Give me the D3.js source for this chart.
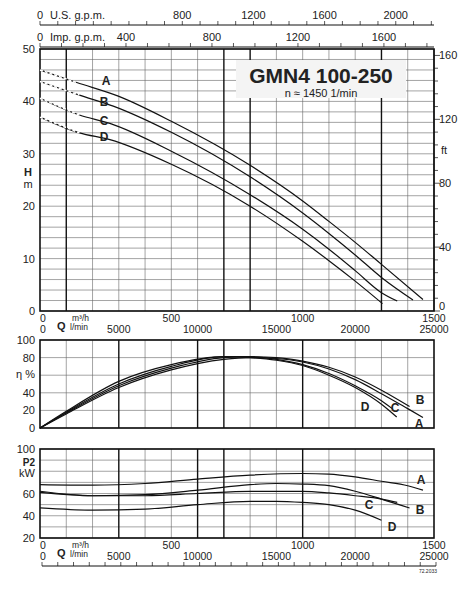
<!DOCTYPE html>
<html><head><meta charset="utf-8">
<script src="https://cdn.jsdelivr.net/npm/d3@7"></script>
<style>body{margin:0;background:#fff}text{font-family:"Liberation Sans",Arial,sans-serif;fill:#222}</style>
</head><body><svg id="c" width="469" height="600"></svg>
<script>
// Flow in m3/h, head in m, efficiency in %, power in kW
const curves = ['A', 'B', 'C', 'D'];
const headQ = [[0,140,298,500,800,1000,1100,1200,1300,1458],[0,150,279,500,800,1000,1100,1200,1300,1420],[0,150,266,500,800,1000,1100,1200,1300,1360],[0,150,266,500,800,1000,1100,1200,1304]];
const headH = [[46.0,43.6,41.0,36.2,27.8,21.0,17.1,13.1,8.9,2.2],[43.8,41.2,39.1,34.1,25.6,18.7,14.8,10.7,6.4,2.1],[40.6,37.4,35.8,30.5,22.2,15.6,11.8,7.7,3.5,1.9],[37.0,34.0,32.7,28.0,20.0,13.3,9.6,5.7,1.4]];
const effQ = [[0,100,300,500,700,800,900,1000,1100,1200,1300,1400,1458],[0,100,300,500,700,800,900,1000,1100,1200,1300,1407],[0,100,300,500,700,800,900,1000,1100,1200,1300,1341],[0,100,300,500,700,800,900,1000,1100,1200,1300,1358]];
const effV = [[0,16,46,66,78,80,79,75,67,55,39,22,12],[0,17,48,68,80,81,80,76,69,58,43,24.5],[0,18,50,70,81,81,78,72,62,48,31,22],[0,19,53,72,81,80,77,71,60,46,27,12.5]];
const powQ = [[0,200,400,600,800,1000,1100,1200,1300,1400,1458],[0,200,400,600,800,900,1000,1100,1200,1300,1407],[0,200,400,600,800,1000,1100,1200,1300,1360],[0,200,400,600,800,900,1000,1100,1200,1300]];
const powV = [[68,67.5,69,73,76.5,78,77.5,75,71,67,63],[61,58,59,63,68,69,68.5,67,62,55,47],[62,58,58,60,62,62,60.5,58,55,52],[47,45,46,50,53,53,52,50,45,36]];
const hTicks = [0,10,20,30,40,50], ftTicks = [0,40,80,120,160];
const qTicks = [0,500,1000,1500], lminTicks = [5000,10000,15000,20000,25000];
const usTicks = [800,1200,1600,2000], impTicks = [400,800,1200,1600];

const svg = d3.select('#c');
const x = d3.scaleLinear().domain([0,1500]).range([40,434]);
const line = d3.line().curve(d3.curveMonotoneX);

function panel(y, yTicks, minorStep, boldQ) {
  const g = svg.append('g');
  const [lo, hi] = y.domain();
  for (let v = lo; v <= hi; v += minorStep)
    g.append('line').attr('x1',40).attr('x2',434).attr('y1',y(v)).attr('y2',y(v)).attr('stroke','#666').attr('stroke-width',0.6);
  for (let q = 100; q < 1500; q += 100)
    g.append('line').attr('x1',x(q)).attr('x2',x(q)).attr('y1',y(lo)).attr('y2',y(hi))
      .attr('stroke', boldQ.includes(q) ? '#111' : '#666').attr('stroke-width', boldQ.includes(q) ? 1.4 : 0.6);
  g.append('rect').attr('x',40).attr('y',y(hi)).attr('width',394).attr('height',y(lo)-y(hi)).attr('fill','none').attr('stroke','#111').attr('stroke-width',1.6);
  yTicks.forEach(t => g.append('text').attr('x',35).attr('y',y(t)+4).attr('text-anchor','end').attr('font-size',11).text(t));
  return g;
}
function curvesDraw(y, qs, vs, dashTo) {
  curves.forEach((c,i) => {
    const pts = qs[i].map((q,j) => [x(q), y(vs[i][j])]);
    svg.append('path').attr('d', line(pts)).attr('fill','none').attr('stroke','#111').attr('stroke-width',1.2);
    if (dashTo) {
      const pts0 = pts.filter(p => p[0] <= x(dashTo) + 0.1);
      svg.append('path').attr('d', line(pts0)).attr('fill','none').attr('stroke','#fff').attr('stroke-width',1.6).attr('stroke-dasharray','3,2');
    }
  });
}
function qAxis(yTop) {
  qTicks.forEach(t => svg.append('text').attr('x',x(t)).attr('y',yTop+8).attr('text-anchor',t?'middle':'start').attr('font-size',10.5).text(t));
  svg.append('text').attr('x',40).attr('y',yTop+19).attr('font-size',10.5).text('0');
  lminTicks.forEach(t => svg.append('text').attr('x',x(t*0.06)).attr('y',yTop+19).attr('text-anchor','middle').attr('font-size',10.5).text(t));
  svg.append('text').attr('x',57).attr('y',yTop+16).attr('font-size',11).attr('font-weight','bold').text('Q');
  svg.append('text').attr('x',72).attr('y',yTop+7).attr('font-size',8.5).text('m³/h');
  svg.append('text').attr('x',70).attr('y',yTop+16).attr('font-size',8.5).text('l/min');
}

// Head panel
const yH = d3.scaleLinear().domain([0,50]).range([311,49]);
panel(yH, hTicks, 2, [100,700,800,1300]);
curvesDraw(yH, headQ, headH, 200);
const yFt = d3.scaleLinear().domain([0,160]).range([311, 311 - 262*160/(50*3.2808)]);
svg.append('line').attr('x1',434).attr('x2',434).attr('y1',49).attr('y2',311).attr('stroke','#111');
for (let f = 0; f <= 160; f += 8)
  svg.append('line').attr('x1',434).attr('x2',f%40?438:440).attr('y1',yFt(f)).attr('y2',yFt(f)).attr('stroke','#111').attr('stroke-width',0.7);
ftTicks.forEach(t => svg.append('text').attr('x',439).attr('y',yFt(t)+(t?4:-1)).attr('font-size',11).text(t));
svg.append('text').attr('x',441).attr('y',154).attr('font-size',11).text('ft');
svg.append('text').attr('x',28).attr('y',176).attr('text-anchor','middle').attr('font-size',11).attr('font-weight','bold').text('H');
svg.append('text').attr('x',28).attr('y',188).attr('text-anchor','middle').attr('font-size',11).text('m');
svg.append('rect').attr('x',236).attr('y',60).attr('width',170).attr('height',38).attr('fill','#f4f4f4');
svg.append('text').attr('x',321).attr('y',83).attr('text-anchor','middle').attr('font-size',21).attr('font-weight','bold').text('GMN4 100-250');
svg.append('text').attr('x',321).attr('y',97).attr('text-anchor','middle').attr('font-size',11).text('n ≈ 1450 1/min');
[[106,85],[104,106],[104,125],[104,141]].forEach((p,i) => svg.append('text').attr('x',p[0]).attr('y',p[1]).attr('text-anchor','middle').attr('font-size',12).attr('font-weight','bold').text(curves[i]));

// Top gpm axes
const xUs = d3.scaleLinear().domain([0,2215]).range([40,434]);
const xImp = d3.scaleLinear().domain([0,1833]).range([40,434]);
[[xUs,25,usTicks,'U.S. g.p.m.',2215],[xImp,47,impTicks,'Imp. g.p.m.',1833]].forEach(([s,yy,ticks,lab,mx]) => {
  svg.append('line').attr('x1',40).attr('x2',434).attr('y1',yy).attr('y2',yy).attr('stroke','#111');
  for (let v = 0; v <= mx; v += 100)
    svg.append('line').attr('x1',s(v)).attr('x2',s(v)).attr('y1',yy).attr('y2',yy-4).attr('stroke','#111').attr('stroke-width',0.7);
  ticks.forEach(t => svg.append('text').attr('x',s(t)).attr('y',yy-6).attr('text-anchor','middle').attr('font-size',11).text(t));
  svg.append('text').attr('x',40).attr('y',yy-6).attr('text-anchor','middle').attr('font-size',11).text('0');
  svg.append('text').attr('x',50).attr('y',yy-6).attr('font-size',11).text(lab);
});
qAxis(314);

// Efficiency panel
const yE = d3.scaleLinear().domain([0,100]).range([428,340]);
panel(yE, [0,20,40,80,100], 20, [300,600,700,1000]);
svg.append('text').attr('x',35).attr('y',yE(57)).attr('text-anchor','end').attr('font-size',11).text('η %');
curvesDraw(yE, effQ, effV);
[['A',419,428],['B',420,404],['C',395,412],['D',365,411]].forEach(d => svg.append('text').attr('x',d[1]).attr('y',d[2]).attr('text-anchor','middle').attr('font-size',12).attr('font-weight','bold').text(d[0]));

// Power panel
const yP = d3.scaleLinear().domain([20,100]).range([538,449]);
panel(yP, [20,40,60,100], 10, [300,600,700,1000]);
svg.append('text').attr('x',35).attr('y',466).attr('text-anchor','end').attr('font-size',10).attr('font-weight','bold').text('P2');
svg.append('text').attr('x',35).attr('y',477).attr('text-anchor','end').attr('font-size',11).text('kW');
curvesDraw(yP, powQ, powV);
[['A',421,484],['B',420,514],['C',369,509],['D',392,531]].forEach(d => svg.append('text').attr('x',d[1]).attr('y',d[2]).attr('text-anchor','middle').attr('font-size',12).attr('font-weight','bold').text(d[0]));
qAxis(541);

// bottom scale
const xB = d3.scaleLinear().domain([0,25]).range([42,436]);
svg.append('line').attr('x1',42).attr('x2',436).attr('y1',566).attr('y2',566).attr('stroke','#111');
d3.range(0,26).forEach(v => svg.append('line').attr('x1',xB(v)).attr('x2',xB(v)).attr('y1',566).attr('y2',562).attr('stroke','#111').attr('stroke-width',0.7));
svg.append('text').attr('x',437).attr('y',573).attr('text-anchor','end').attr('font-size',5).text('72.2033');
</script></body></html>
